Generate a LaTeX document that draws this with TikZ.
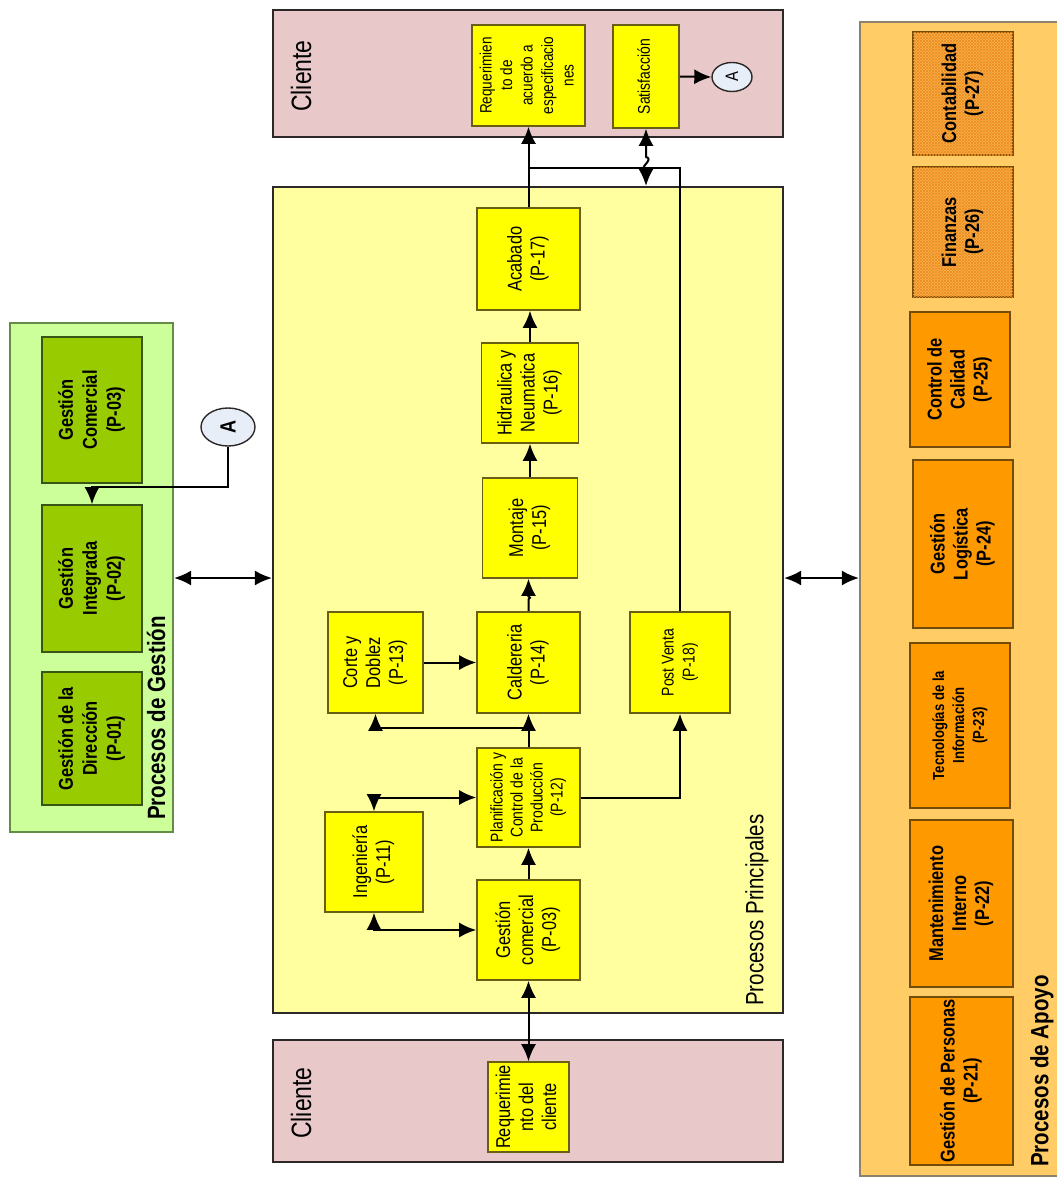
\documentclass[tikz,border=0pt]{standalone}
\usepackage{fontspec}
\setmainfont{Liberation Sans}[FakeStretch=0.82]
\usepackage{graphicx}
\usetikzlibrary{arrows.meta,patterns,calc,shapes.geometric}

\definecolor{pinkc}{RGB}{232,200,200}
\definecolor{princc}{RGB}{255,255,160}
\definecolor{yboxc}{RGB}{255,255,0}
\definecolor{yedge}{RGB}{105,95,20}
\definecolor{gouter}{RGB}{204,255,153}
\definecolor{gouteredge}{RGB}{100,140,70}
\definecolor{ginner}{RGB}{153,204,0}
\definecolor{ginneredge}{RGB}{55,85,20}
\definecolor{aouter}{RGB}{255,204,102}
\definecolor{aouteredge}{RGB}{140,130,110}
\definecolor{oboxc}{RGB}{255,153,0}
\definecolor{oedge}{RGB}{115,75,10}
\definecolor{ohatchfill}{RGB}{250,178,80}
\definecolor{ohatchline}{RGB}{236,140,30}
\definecolor{circc}{RGB}{232,238,248}
\definecolor{darkc}{RGB}{45,40,40}

\newcommand{\rtxt}[1]{\rotatebox{90}{\begin{tabular}{@{}c@{}}#1\end{tabular}}}

\tikzset{
  container/.style={draw=darkc, line width=2.2pt, inner sep=0pt},
  pbox/.style={draw=yedge, fill=yboxc, line width=1.6pt, inner sep=0pt,
    font=\fontsize{20}{23}\selectfont},
  gbox/.style={draw=ginneredge, fill=ginner, line width=1.6pt, inner sep=0pt,
    font=\bfseries\fontsize{20}{24}\selectfont},
  abox/.style={draw=oedge, fill=oboxc, line width=1.6pt, inner sep=0pt,
    font=\bfseries\fontsize{20}{23}\selectfont},
  hbox/.style={abox, fill=ohatchfill,
    postaction={pattern=north east lines, pattern color=ohatchline},
    postaction={pattern=north west lines, pattern color=ohatchline}},
  conn/.style={draw=black, line width=2pt},
  tip/.style={-{Latex[length=17pt,width=15pt]}},
  tips/.style={{Latex[length=17pt,width=15pt]}-{Latex[length=17pt,width=15pt]}},
  circA/.style={shape=ellipse, draw=darkc, fill=circc, line width=1.4pt, inner sep=0pt}
}

\begin{document}
\begin{tikzpicture}[x=1pt,y=-1pt]
\useasboundingbox (0,0) rectangle (1057,1178);

% ---------- containers ----------
\node[container, fill=pinkc, minimum width=510pt, minimum height=127pt] (cliTop) at (528,73.5) {};
\node[container, fill=princc, minimum width=510pt, minimum height=826pt] (princ) at (528,600) {};
\node[container, fill=pinkc, minimum width=510pt, minimum height=122pt] (cliBot) at (528,1101) {};
\node[container, draw=gouteredge, fill=gouter, minimum width=163pt, minimum height=509pt] (gest) at (91.5,577.5) {};
\node[container, draw=aouteredge, fill=aouter, minimum width=202pt, minimum height=1154pt] (apoyo) at (961,599) {};

\node[rotate=90, font=\fontsize{28}{30}\selectfont] (clLab1) at (301,76) {Cliente};
\node[rotate=90, font=\fontsize{28}{30}\selectfont] (clLab2) at (301,1103) {Cliente};
\node[rotate=90, font=\fontsize{25}{28}\selectfont] (prLab) at (757,910) {Procesos Principales};
\node[rotate=90, font=\bfseries\fontsize{25}{28}\selectfont] (geLab) at (156,718) {Procesos de Gestión};
\node[rotate=90, font=\bfseries\fontsize{25}{28}\selectfont] (apLab) at (1042,1071) {Procesos de Apoyo};

% ---------- Gestión ----------
\node[gbox, minimum width=100pt, minimum height=146pt] (g03) at (92,410) {\rtxt{Gestión\\Comercial\\(P-03)}};
\node[gbox, minimum width=100pt, minimum height=147pt] (g02) at (92,578.5) {\rtxt{Gestión\\Integrada\\(P-02)}};
\node[gbox, minimum width=100pt, minimum height=133pt] (g01) at (92,738.5) {\rtxt{Gestión de la\\Dirección\\(P-01)}};
\node[circA, minimum width=54pt, minimum height=38pt, font=\bfseries\fontsize{22}{24}\selectfont] (ca1) at (228,427) {\rotatebox{90}{A}};

% ---------- Cliente top ----------
\node[pbox, minimum width=113pt, minimum height=101pt, font=\fontsize{16.5}{20.5}\selectfont] (reqTop) at (528.5,75.5) {\rtxt{Requerimien\\to de\\acuerdo a\\especificacio\\nes}};
\node[pbox, minimum width=66pt, minimum height=103pt, font=\fontsize{17}{19}\selectfont] (satis) at (646,76.5) {\rtxt{Satisfacción}};
\node[circA, minimum width=40pt, minimum height=29pt, font=\fontsize{18}{20}\selectfont] (ca2) at (732,77) {\rotatebox{90}{A}};

% ---------- Principales ----------
\node[pbox, minimum width=103pt, minimum height=102pt] (acab) at (528.5,259) {\rtxt{Acabado\\(P-17)}};
\node[pbox, minimum width=97pt, minimum height=100pt] (hidr) at (530,393) {\rtxt{Hidraulica y\\Neumatica\\(P-16)}};
\node[pbox, minimum width=95pt, minimum height=100pt] (mont) at (530,528) {\rtxt{Montaje\\(P-15)}};
\node[pbox, minimum width=103pt, minimum height=101pt] (cald) at (528.5,662.5) {\rtxt{Caldereria\\(P-14)}};
\node[pbox, minimum width=95pt, minimum height=101pt] (corte) at (375.5,662.5) {\rtxt{Corte y\\Doblez\\(P-13)}};
\node[pbox, minimum width=100pt, minimum height=101pt, font=\fontsize{17}{21}\selectfont] (post) at (680,662.5) {\rtxt{Post Venta\\(P-18)}};
\node[pbox, minimum width=103pt, minimum height=99pt, font=\fontsize{17}{20}\selectfont] (plan) at (528.5,797.5) {\rtxt{Planificación y\\Control de la\\Producción\\(P-12)}};
\node[pbox, minimum width=98pt, minimum height=100pt] (ing) at (374,862) {\rtxt{Ingeniería\\(P-11)}};
\node[pbox, minimum width=103pt, minimum height=100pt] (gcom) at (528.5,930) {\rtxt{Gestión\\comercial\\(P-03)}};

% ---------- Cliente bottom ----------
\node[pbox, minimum width=81pt, minimum height=90pt] (reqBot) at (528.5,1107) {\rtxt{Requerimie\\nto del\\cliente}};

% ---------- Apoyo ----------
\node[hbox, minimum width=100pt, minimum height=123pt] (a27) at (963,93.5) {\rtxt{Contabilidad\\(P-27)}};
\node[hbox, minimum width=100pt, minimum height=130pt] (a26) at (963,232) {\rtxt{Finanzas\\(P-26)}};
\node[abox, minimum width=100pt, minimum height=135pt] (a25) at (960,379.5) {\rtxt{Control de\\Calidad\\(P-25)}};
\node[abox, minimum width=100pt, minimum height=168pt] (a24) at (963,544) {\rtxt{Gestión\\Logística\\(P-24)}};
\node[abox, minimum width=100pt, minimum height=165pt, font=\bfseries\fontsize{16}{20}\selectfont] (a23) at (960,725.5) {\rtxt{Tecnologías de la\\Información\\(P-23)}};
\node[abox, minimum width=103pt, minimum height=167pt] (a22) at (961.5,903.5) {\rtxt{Mantenimiento\\Interno\\(P-22)}};
\node[abox, minimum width=103pt, minimum height=168pt] (a21) at (961.5,1081) {\rtxt{Gestión de Personas\\(P-21)}};

% ---------- connectors ----------
\coordinate (aj) at (92,487);
\draw[conn,tip] (ca1.south) |- (aj) -- (g02.north);
\draw[conn,tips] (gest.east |- 0,578) -- (princ.west |- 0,578);
\draw[conn,tips] (princ.east |- 0,578) -- (apoyo.west |- 0,578);

\draw[conn,tips] (gcom.south) -- (reqBot.north);
\draw[conn,tip] (gcom.north) -- (plan.south);
\draw[conn,tips] (ing.south) |- (gcom.west);
\draw[conn,tips] (ing.north) |- (plan.west);
\draw[conn,tip] (plan.north) -- (cald.south);
\coordinate (bj) at (528.5,728);
\draw[conn,tip] (bj) -| (corte.south);
\draw[conn,tip] (plan.east) -| (post.south);
\draw[conn,tip] (corte.east) -- (cald.west);
\draw[conn,tip] (cald.north) -- ++(0,-12) .. controls +(5,-2) and +(-5,2) .. ++(0,-6) -- (cald.north |- mont.south);
\draw[conn,tip] (mont.north) -- (mont.north |- hidr.south);
\draw[conn,tip] (hidr.north) -- (hidr.north |- acab.south);
\draw[conn,tip] (acab.north) -- (reqTop.south);

\coordinate (pj) at (528.5,168);
\draw[conn] (post.north) |- (pj);
\draw[conn,tips] (satis.south) -- ++(0,28) .. controls +(9,3) and +(-9,-3) .. ++(0,14) -- (satis.south |- princ.north);
\draw[conn,tip] (satis.east) -- (ca2.west);
\end{tikzpicture}
\end{document}
